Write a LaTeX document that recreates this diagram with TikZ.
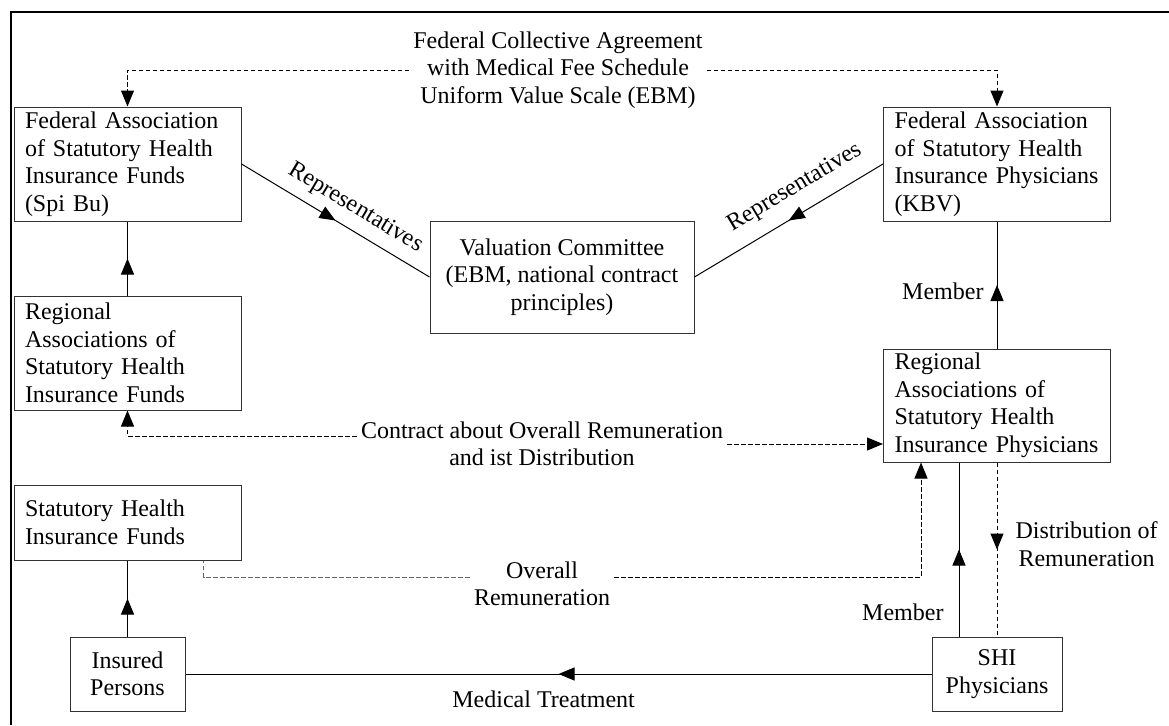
\documentclass[tikz,border=0pt]{standalone}
\usepackage{fontspec}
\setmainfont{Liberation Serif}
\usetikzlibrary{arrows.meta,decorations.markings,calc}
\tikzset{
  box/.style={draw=black!80, line width=1pt, inner sep=0pt, font=\fontsize{24}{27.5}\selectfont},
  lbox/.style={box, text width=205pt, align=left, inner xsep=11pt, minimum height=#1},
  cbox/.style={box, align=center},
  lab/.style={font=\fontsize{24}{27.5}\selectfont, inner sep=4pt, align=center},
  con/.style={line width=1pt, draw=black},
  dsh/.style={con, dash pattern=on 4.5pt off 2.5pt},
  arr/.style={-{Triangle[length=16pt,width=13pt]}},
  midarrow/.style={postaction={decorate}, decoration={markings,
     mark=at position 0.5 with {\arrow{Triangle[length=16pt,width=13pt]}}}},
  midarrowrev/.style={postaction={decorate}, decoration={markings,
     mark=at position 0.5 with {\arrowreversed{Triangle[length=16pt,width=13pt]}}}},
}
\begin{document}
\begin{tikzpicture}[x=1pt,y=-1pt]
\useasboundingbox (0,0) rectangle (1169,725);
% frame
\draw[line width=2pt] (1169,12) -- (10.5,12) -- (10.5,725);

% boxes
\node[lbox=114pt] (fedF) at (127.5,164) {Federal Association\\of Statutory Health\\Insurance Funds\\(Spi Bu)};
\node[lbox=114pt] (fedP) at (997,164) {Federal Association\\of Statutory Health\\Insurance Physicians\\(KBV)};
\node[cbox, minimum width=264pt, minimum height=112pt] (val) at (562,277) {Valuation Committee\\(EBM, national contract\\principles)};
\node[lbox=114pt] (regF) at (127.5,353) {Regional\\Associations of\\Statutory Health\\Insurance Funds};
\node[lbox=113pt] (regP) at (997,405.5) {Regional\\Associations of\\Statutory Health\\Insurance Physicians};
\node[lbox=75pt] (shiF) at (127.5,522.5) {Statutory Health\\Insurance Funds};
\node[cbox, minimum width=115pt, minimum height=74pt] (ins) at (127.5,674) {Insured\\Persons};
\node[cbox, minimum width=130pt, minimum height=74pt] (shiP) at (997,674) {SHI\\Physicians};

% free labels
\node[lab] (fca) at (558,70) {Federal Collective Agreement\\with Medical Fee Schedule\\Uniform Value Scale (EBM)};
\node[lab] (cont) at (542,444) {Contract about Overall Remuneration\\and ist Distribution};
\node[lab] (ovr) at (542,584) {Overall\\Remuneration};

% helper coordinates
\coordinate (oL) at ([xshift=-38pt]shiF.south east);
\coordinate (oR) at ([xshift=-76pt]regP.south);
\coordinate (mA) at ([xshift=-38pt]shiP.north);
\coordinate (mB) at (mA |- regP.south);

% top agreement
\draw[dsh, arr] (fca.west) -| (fedF.north);
\draw[dsh, arr] (fca.east) -| (fedP.north);

% representatives
\draw[con, midarrow] (fedF.east) -- (val.west)
  node[lab, pos=0.55, sloped, above=6pt] {Representatives};
\draw[con, midarrowrev] (val.east) -- (fedP.west)
  node[lab, pos=0.6, sloped, above=10pt] {Representatives};

% left column
\draw[con, midarrow] (regF.north) -- (fedF.south);
\draw[con, midarrow] (ins.north) -- (shiF.south);

% contract
\draw[dsh, arr] ([yshift=8pt]cont.west) -| (regF.south);
\draw[dsh, arr] (cont.east) -- (cont.east -| regP.west);

% member upper right
\draw[con, midarrow] (regP.north) -- (fedP.south)
  node[lab, pos=0.45, left=9pt] {Member};

% overall remuneration
\draw[dsh, draw=black!60] ([yshift=7pt]ovr.west) -| (oL);
\draw[dsh, arr] ([yshift=7pt]ovr.east) -| (oR);

% member lower right
\draw[con, midarrow] (mA) -- (mB)
  node[lab, pos=0.14, left=11pt] {Member};

% distribution
\draw[dsh, midarrow] (regP.south) -- (shiP.north)
  node[lab, pos=0.47, right=14pt] {Distribution of\\Remuneration};

% medical treatment
\draw[con, midarrow] (shiP.west) -- (ins.east)
  node[lab, pos=0.52, below=12pt] {Medical Treatment};
\end{tikzpicture}
\end{document}
